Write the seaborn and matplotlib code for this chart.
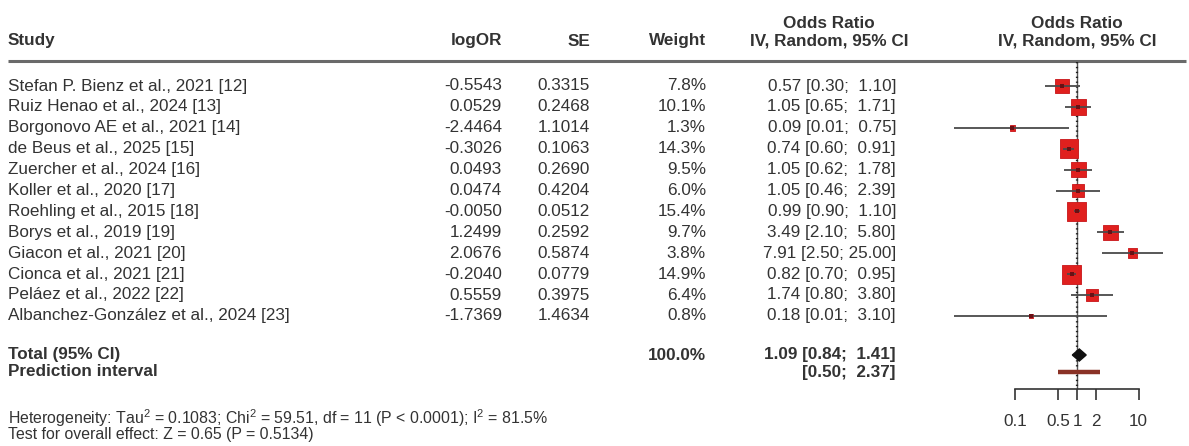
import numpy as np
import pandas as pd
import matplotlib
matplotlib.use("Agg")
import matplotlib.pyplot as plt
import seaborn as sns

# ---- data -------------------------------------------------------------
studies = [
    "Stefan P. Bienz et al., 2021 [12]",
    "Ruiz Henao et al., 2024 [13]",
    "Borgonovo AE et al., 2021 [14]",
    "de Beus et al., 2025 [15]",
    "Zuercher et al., 2024 [16]",
    "Koller et al., 2020 [17]",
    "Roehling et al., 2015 [18]",
    "Borys et al., 2019 [19]",
    "Giacon et al., 2021 [20]",
    "Cionca et al., 2021 [21]",
    "Peláez et al., 2022 [22]",
    "Albanchez-González et al., 2024 [23]",
]
log_or = [-0.5543, 0.0529, -2.4464, -0.3026, 0.0493, 0.0474,
          -0.0050, 1.2499, 2.0676, -0.2040, 0.5559, -1.7369]
se = [0.3315, 0.2468, 1.1014, 0.1063, 0.2690, 0.4204,
      0.0512, 0.2592, 0.5874, 0.0779, 0.3975, 1.4634]
weight = [7.8, 10.1, 1.3, 14.3, 9.5, 6.0, 15.4, 9.7, 3.8, 14.9, 6.4, 0.8]
odds_ratio = [0.57, 1.05, 0.09, 0.74, 1.05, 1.05, 0.99, 3.49, 7.91, 0.82, 1.74, 0.18]
ci_lower = [0.30, 0.65, 0.01, 0.60, 0.62, 0.46, 0.90, 2.10, 2.50, 0.70, 0.80, 0.01]
ci_upper = [1.10, 1.71, 0.75, 0.91, 1.78, 2.39, 1.10, 5.80, 25.00, 0.95, 3.80, 3.10]

total_or, total_lo, total_hi = 1.09, 0.84, 1.41
pred_lo, pred_hi = 0.50, 2.37
total_weight = 100.0
axis_ticks = [0.1, 0.5, 1, 2, 10]
axis_ticklabels = ["0.1", "0.5", "1", "2", "10"]
heterogeneity = "Heterogeneity: Tau$^2$ = 0.1083; Chi$^2$ = 59.51, df = 11 (P < 0.0001); I$^2$ = 81.5%"
overall = "Test for overall effect: Z = 0.65 (P = 0.5134)"

df = pd.DataFrame({"study": studies, "logOR": log_or, "SE": se, "weight": weight,
                   "OR": odds_ratio, "lo": ci_lower, "hi": ci_upper})

# ---- styling ------------------------------------------------------------
sns.set_theme(style="white")
plt.rcParams["font.family"] = ["Liberation Sans", "DejaVu Sans"]
plt.rcParams["mathtext.fontset"] = "custom"
plt.rcParams["mathtext.rm"] = "Liberation Sans"

TXT = "#333333"
FS = 12.3
W, H = 1189, 446

fig = plt.figure(figsize=(W / 100, H / 100), dpi=100)

# text layer in pixel units
tx = fig.add_axes([0, 0, 1, 1])
tx.set_xlim(0, W)
tx.set_ylim(H, 0)
tx.axis("off")

# forest plot layer (log odds ratio axis), sharing the same vertical units
fx_left, fx_right = 945, 1185
px_per_decade = 61.7
x_one = 1077
fx = fig.add_axes([fx_left / W, 0, (fx_right - fx_left) / W, 1], facecolor="none")
fx.set_xscale("log")
fx.set_xlim(10 ** ((fx_left - x_one) / px_per_decade), 10 ** ((fx_right - x_one) / px_per_decade))
fx.set_ylim(H, 0)

row0, row_step = 86, 20.9
df["y"] = row0 + row_step * np.arange(len(df))
y_total = 355
y_pred = 372
y_axis = 389

# ---- header ---------------------------------------------------------------
hdr = dict(fontsize=FS, fontweight="bold", color=TXT, va="center")
tx.text(8, 41, "Study", ha="left", **hdr)
tx.text(502, 41, "logOR", ha="right", **hdr)
tx.text(590, 41, "SE", ha="right", **hdr)
tx.text(706, 41, "Weight", ha="right", **hdr)
tx.text(829, 23, "Odds Ratio", ha="center", **hdr)
tx.text(829, 41, "IV, Random, 95% CI", ha="center", **hdr)
tx.text(1077, 23, "Odds Ratio", ha="center", **hdr)
tx.text(1077, 41, "IV, Random, 95% CI", ha="center", **hdr)
tx.plot([8, 1186], [61, 61], color="#6a6a6a", lw=2.2, solid_capstyle="butt")

# ---- study rows ---------------------------------------------------------
body = dict(fontsize=FS, color=TXT, va="center")
for _, r in df.iterrows():
    tx.text(8, r.y, r.study, ha="left", **body)
    tx.text(502, r.y, f"{r.logOR:.4f}", ha="right", **body)
    tx.text(590, r.y, f"{r.SE:.4f}", ha="right", **body)
    tx.text(706, r.y, f"{r.weight:.1f}%", ha="right", **body)
    tx.text(896, r.y, f"{r.OR:.2f} [{r.lo:.2f}; {r.hi:5.2f}]", ha="right", **body)

# totals
tx.text(8, y_total, "Total (95% CI)", ha="left", **hdr)
tx.text(8, y_pred, "Prediction interval", ha="left", **hdr)
tx.text(706, y_total, f"{total_weight:.1f}%", ha="right", **hdr)
tx.text(896, y_total, f"{total_or:.2f} [{total_lo:.2f}; {total_hi:5.2f}]", ha="right", **hdr)
tx.text(896, y_pred, f"[{pred_lo:.2f}; {pred_hi:5.2f}]", ha="right", **hdr)

# footnotes
tx.text(8, 418, heterogeneity, ha="left", va="center", fontsize=11.4, color=TXT)
tx.text(8, 434, overall, ha="left", va="center", fontsize=11.4, color=TXT)

# ---- forest plot ----------------------------------------------------------
# line of no effect
fx.vlines(1, 62, y_axis, color="#555555", lw=1.0, zorder=1)
fx.vlines(1, 62, y_axis, color="#222222", lw=1.6, linestyles=(0, (0.6, 1.6)), zorder=1)

# study squares, area proportional to weight
wmin, wmax = min(weight), max(weight)
k = 12.5
sns.scatterplot(data=df, x="OR", y="y", size="weight", sizes=(k * wmin, k * wmax),
                size_norm=(wmin, wmax), marker="s", color="#E0201E",
                edgecolor="#C81518", linewidth=0.6, legend=False, ax=fx, zorder=3)
# confidence intervals
fx.hlines(df["y"], df["lo"], df["hi"], color="#4a4a4a", lw=1.3, zorder=4)
# point estimates
fx.scatter(df["OR"], df["y"], marker="s", s=7, color="#6a1014", zorder=5, linewidth=0)

# pooled estimate diamond
dh = 6
fx.fill([total_lo, total_or, total_hi, total_or],
        [y_total, y_total - dh, y_total, y_total + dh], color="#111111", zorder=5)
# prediction interval
fx.hlines(y_pred, pred_lo, pred_hi, color="#8a3226", lw=3.2, zorder=5)

# x axis
for s in ["top", "right", "left"]:
    fx.spines[s].set_visible(False)
fx.spines["bottom"].set_position(("data", y_axis))
fx.spines["bottom"].set_bounds(axis_ticks[0], axis_ticks[-1])
fx.spines["bottom"].set_color("#333333")
fx.spines["bottom"].set_linewidth(1.2)
fx.set_xticks(axis_ticks)
fx.set_xticklabels(axis_ticklabels)
fx.xaxis.set_minor_locator(matplotlib.ticker.NullLocator())
fx.tick_params(axis="x", which="major", direction="out", length=8, width=1.2,
               color="#333333", labelsize=FS, labelcolor=TXT, pad=10, bottom=True)
fx.set_yticks([])
fx.set_xlabel("")
fx.set_ylabel("")

fig.savefig("out.png", dpi=100)
